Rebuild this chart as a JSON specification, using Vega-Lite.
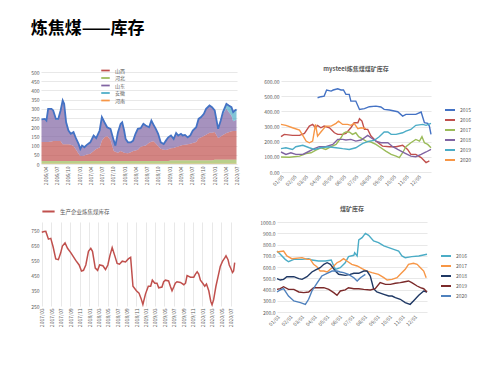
{
"$schema": "https://vega.github.io/schema/vega-lite/v6.json",
"background": "white",
"padding": {"left": 30, "top": 20, "right": 5, "bottom": 5},
"title": {"text": "炼焦煤——库存", "anchor": "start", "fontSize": 17, "fontWeight": "bold", "font": "Noto Sans CJK SC", "color": "#000000", "offset": 28},
"config": {
  "font": "Noto Sans CJK SC",
  "view": {"stroke": null},
  "axis": {"labelFontSize": 5, "labelColor": "#595959", "domain": false, "ticks": false, "grid": false, "labelPadding": 2, "gridColor": "#d9d9d9", "gridWidth": 0.6, "labelOverlap": false},
  "legend": {"labelFontSize": 5, "labelColor": "#595959", "title": null},
  "title": {"fontSize": 6, "color": "#595959", "fontWeight": "bold"}
},
"resolve": {"scale": {"color": "independent"}, "legend": {"color": "independent"}},
"spacing": 17,
"vconcat": [
{"spacing": 22, "resolve": {"scale": {"color": "independent"}, "legend": {"color": "independent"}}, "hconcat": [
{
  "width": 196, "height": 92,
  "data": {"values": [
{"d":"2016-03-01","山西":104,"河北":15,"山东":119,"安徽":3,"河南":1,"t":242},
{"d":"2016-03-28","山西":104,"河北":15,"山东":122,"安徽":3,"河南":1,"t":245},
{"d":"2016-04-10","山西":104,"河北":15,"山东":113,"安徽":3,"河南":1,"t":236},
{"d":"2016-04-24","山西":104,"河北":15,"山东":177,"安徽":3,"河南":1,"t":300},
{"d":"2016-05-21","山西":106,"河北":15,"山东":175,"安徽":3,"河南":1,"t":300},
{"d":"2016-06-04","山西":109,"河北":15,"山东":163,"安徽":3,"河南":1,"t":291},
{"d":"2016-06-26","山西":109,"河北":15,"山东":117,"安徽":3,"河南":1,"t":245},
{"d":"2016-07-15","山西":109,"河北":15,"山东":117,"安徽":3,"河南":1,"t":245},
{"d":"2016-08-03","山西":109,"河北":15,"山东":163,"安徽":3,"河南":1,"t":291},
{"d":"2016-08-20","山西":91,"河北":15,"山东":235,"安徽":3,"河南":1,"t":345},
{"d":"2016-09-01","山西":91,"河北":15,"山东":217,"安徽":3,"河南":1,"t":327},
{"d":"2016-09-17","山西":91,"河北":15,"山东":117,"安徽":3,"河南":1,"t":227},
{"d":"2016-10-06","山西":91,"河北":15,"山东":72,"安徽":3,"河南":1,"t":182},
{"d":"2016-10-25","山西":88,"河北":15,"山东":57,"安徽":3,"河南":1,"t":164},
{"d":"2016-11-16","山西":82,"河北":15,"山东":72,"安徽":3,"河南":1,"t":173},
{"d":"2016-12-08","山西":60,"河北":15,"山东":57,"安徽":3,"河南":1,"t":136},
{"d":"2016-12-27","山西":40,"河北":15,"山东":50,"安徽":3,"河南":1,"t":109},
{"d":"2017-01-10","山西":27,"河北":15,"山东":36,"安徽":3,"河南":1,"t":82},
{"d":"2017-01-24","山西":27,"河北":15,"山东":54,"安徽":3,"河南":1,"t":100},
{"d":"2017-02-12","山西":30,"河北":15,"山东":42,"安徽":3,"河南":1,"t":91},
{"d":"2017-03-04","山西":36,"河北":15,"山东":49,"安徽":3,"河南":1,"t":104},
{"d":"2017-04-01","山西":40,"河北":15,"山东":59,"安徽":3,"河南":1,"t":118},
{"d":"2017-04-28","山西":55,"河北":15,"山东":81,"安徽":3,"河南":1,"t":155},
{"d":"2017-05-19","山西":65,"河北":15,"山东":56,"安徽":3,"河南":1,"t":140},
{"d":"2017-06-16","山西":73,"河北":15,"山东":90,"安徽":3,"河南":1,"t":182},
{"d":"2017-07-04","山西":110,"河北":15,"山东":126,"安徽":3,"河南":1,"t":255},
{"d":"2017-07-25","山西":130,"河北":15,"山东":78,"安徽":3,"河南":1,"t":227},
{"d":"2017-08-16","山西":136,"河北":15,"山东":45,"安徽":3,"河南":1,"t":200},
{"d":"2017-09-12","山西":115,"河北":15,"山东":57,"安徽":3,"河南":1,"t":191},
{"d":"2017-10-09","山西":55,"河北":15,"山东":53,"安徽":3,"河南":1,"t":127},
{"d":"2017-10-22","山西":50,"河北":15,"山东":31,"安徽":3,"河南":1,"t":100},
{"d":"2017-11-12","山西":45,"河北":15,"山东":109,"安徽":3,"河南":1,"t":173},
{"d":"2017-12-03","山西":55,"河北":15,"山东":144,"安徽":3,"河南":1,"t":218},
{"d":"2017-12-16","山西":50,"河北":15,"山东":158,"安徽":3,"河南":1,"t":227},
{"d":"2018-01-01","山西":45,"河北":15,"山东":118,"安徽":3,"河南":1,"t":182},
{"d":"2018-01-13","山西":44,"河北":15,"山东":73,"安徽":3,"河南":1,"t":136},
{"d":"2018-02-01","山西":42,"河北":15,"山东":57,"安徽":3,"河南":1,"t":118},
{"d":"2018-02-24","山西":48,"河北":15,"山东":51,"安徽":3,"河南":1,"t":118},
{"d":"2018-03-15","山西":55,"河北":15,"山东":53,"安徽":3,"河南":1,"t":127},
{"d":"2018-04-03","山西":58,"河北":15,"山东":87,"安徽":3,"河南":1,"t":164},
{"d":"2018-04-22","山西":62,"河北":15,"山东":110,"安徽":3,"河南":1,"t":191},
{"d":"2018-05-15","山西":78,"河北":15,"山东":98,"安徽":3,"河南":1,"t":195},
{"d":"2018-06-06","山西":82,"河北":15,"山东":117,"安徽":3,"河南":1,"t":218},
{"d":"2018-06-25","山西":85,"河北":15,"山东":105,"安徽":3,"河南":1,"t":209},
{"d":"2018-07-22","山西":100,"河北":15,"山东":81,"安徽":3,"河南":1,"t":200},
{"d":"2018-08-10","山西":105,"河北":15,"山东":112,"安徽":3,"河南":1,"t":236},
{"d":"2018-08-28","山西":108,"河北":15,"山东":86,"安徽":3,"河南":1,"t":213},
{"d":"2018-09-15","山西":96,"河北":15,"山东":76,"安徽":3,"河南":1,"t":191},
{"d":"2018-10-04","山西":82,"河北":15,"山东":63,"安徽":3,"河南":1,"t":164},
{"d":"2018-10-25","山西":67,"河北":15,"山东":32,"安徽":3,"河南":1,"t":118},
{"d":"2018-11-18","山西":62,"河北":15,"山东":28,"安徽":3,"河南":1,"t":109},
{"d":"2018-12-06","山西":60,"河北":15,"山东":48,"安徽":3,"河南":1,"t":127},
{"d":"2018-12-25","山西":64,"河北":15,"山东":62,"安徽":3,"河南":1,"t":145},
{"d":"2019-01-16","山西":66,"河北":18,"山东":67,"安徽":3,"河南":1,"t":155},
{"d":"2019-02-07","山西":68,"河北":18,"山东":46,"安徽":3,"河南":1,"t":136},
{"d":"2019-02-27","山西":73,"河北":18,"山东":74,"安徽":3,"河南":1,"t":169},
{"d":"2019-03-16","山西":76,"河北":18,"山东":57,"安徽":3,"河南":1,"t":155},
{"d":"2019-04-07","山西":82,"河北":18,"山东":60,"安徽":3,"河南":1,"t":164},
{"d":"2019-04-21","山西":84,"河北":18,"山东":49,"安徽":3,"河南":1,"t":155},
{"d":"2019-05-10","山西":85,"河北":18,"山东":51,"安徽":3,"河南":1,"t":158},
{"d":"2019-06-01","山西":88,"河北":18,"山东":35,"安徽":3,"河南":1,"t":145},
{"d":"2019-06-22","山西":91,"河北":18,"山东":42,"安徽":3,"河南":1,"t":155},
{"d":"2019-07-12","山西":95,"河北":18,"山东":65,"安徽":3,"河南":1,"t":182},
{"d":"2019-08-09","山西":100,"河北":18,"山东":78,"安徽":3,"河南":1,"t":200},
{"d":"2019-08-28","山西":120,"河北":18,"山东":103,"安徽":3,"河南":1,"t":245},
{"d":"2019-09-18","山西":127,"河北":18,"山东":106,"安徽":3,"河南":1,"t":255},
{"d":"2019-10-10","山西":133,"河北":18,"山东":118,"安徽":3,"河南":1,"t":273},
{"d":"2019-10-28","山西":140,"河北":18,"山东":138,"安徽":3,"河南":1,"t":300},
{"d":"2019-11-25","山西":151,"河北":18,"山东":145,"安徽":3,"河南":1,"t":318},
{"d":"2019-12-15","山西":151,"河北":18,"山东":136,"安徽":3,"河南":1,"t":309},
{"d":"2020-01-06","山西":151,"河北":22,"山东":114,"安徽":3,"河南":1,"t":291},
{"d":"2020-02-03","山西":118,"河北":22,"山东":47,"安徽":3,"河南":1,"t":191},
{"d":"2020-02-24","山西":127,"河北":22,"山东":83,"安徽":3,"河南":1,"t":236},
{"d":"2020-03-13","山西":135,"河北":22,"山东":114,"安徽":10,"河南":1,"t":282},
{"d":"2020-04-10","山西":145,"河北":22,"山东":134,"安徽":25,"河南":1,"t":327},
{"d":"2020-04-29","山西":150,"河北":22,"山东":110,"安徽":35,"河南":1,"t":318},
{"d":"2020-05-21","山西":155,"河北":22,"山东":86,"安徽":45,"河南":1,"t":309},
{"d":"2020-06-04","山西":156,"河北":22,"山东":53,"安徽":50,"河南":1,"t":282},
{"d":"2020-06-18","山西":157,"河北":22,"山东":56,"安徽":55,"河南":1,"t":291},
{"d":"2020-07-01","山西":158,"河北":22,"山东":60,"安徽":55,"河南":1,"t":296}
  ]},
  "layer": [
    {
      "transform": [{"fold": ["山西","河北","山东","安徽","河南"], "as": ["k","v"]}],
      "mark": {"type": "area", "opacity": 0.7},
      "encoding": {
        "x": {"field": "d", "type": "temporal", "title": null,
          "scale": {"domain": ["2016-02-26","2020-07-05"]},
          "axis": {"format": "%Y/%m", "labelAngle": -90, "tickCount": {"interval": "month", "step": 3}}},
        "y": {"field": "v", "type": "quantitative", "stack": "zero", "title": null,
          "scale": {"domain": [0, 500]},
          "axis": {"values": [0,50,100,150,200,250,300,350,400,450,500], "grid": true}},
        "color": {"field": "k", "type": "nominal", "sort": ["山西","河北","山东","安徽","河南"],
          "scale": {"domain": ["山西","河北","山东","安徽","河南"], "range": ["#c0504d","#9bbb59","#8064a2","#4bacc6","#f79646"]},
          "legend": {"orient": "none", "legendX": 61, "legendY": -5, "symbolType": "M-1.7,-0.35H1.7V0.35H-1.7Z", "symbolSize": 25, "rowPadding": 0.5, "labelOffset": 6, "labelFontSize": 5, "symbolOpacity": 1}}
      }
    },
    {
      "mark": {"type": "line", "color": "#4472c4", "strokeWidth": 1.8},
      "encoding": {
        "x": {"field": "d", "type": "temporal", "title": null,
          "axis": {"format": "%Y/%m", "labelAngle": -90, "tickCount": {"interval": "month", "step": 3}}},
        "y": {"field": "t", "type": "quantitative", "title": null,
          "axis": {"values": [0,50,100,150,200,250,300,350,400,450,500], "grid": true}}
      }
    }
  ]
},
{
  "width": 150, "height": 100,
  "title": {"text": "mysteel炼焦煤煤矿库存", "offset": 0},
  "data": {"values": [
{"s":"2015","d":89,"v":490},{"s":"2015","d":97,"v":497},{"s":"2015","d":105,"v":501},{"s":"2015","d":111,"v":541},{"s":"2015","d":122,"v":534},{"s":"2015","d":127,"v":541},{"s":"2015","d":138,"v":549},{"s":"2015","d":146,"v":541},{"s":"2015","d":152,"v":541},{"s":"2015","d":158,"v":512},{"s":"2015","d":166,"v":512},{"s":"2015","d":170,"v":468},{"s":"2015","d":182,"v":468},{"s":"2015","d":191,"v":413},{"s":"2015","d":203,"v":418},{"s":"2015","d":215,"v":431},{"s":"2015","d":231,"v":435},{"s":"2015","d":243,"v":429},{"s":"2015","d":251,"v":413},{"s":"2015","d":264,"v":409},{"s":"2015","d":284,"v":398},{"s":"2015","d":296,"v":369},{"s":"2015","d":304,"v":380},{"s":"2015","d":328,"v":380},{"s":"2015","d":341,"v":396},{"s":"2015","d":349,"v":325},{"s":"2015","d":357,"v":321},{"s":"2015","d":361,"v":303},{"s":"2015","d":365,"v":248},
{"s":"2016","d":0,"v":233},{"s":"2016","d":8,"v":248},{"s":"2016","d":28,"v":242},{"s":"2016","d":45,"v":242},{"s":"2016","d":57,"v":255},{"s":"2016","d":69,"v":303},{"s":"2016","d":77,"v":314},{"s":"2016","d":84,"v":292},{"s":"2016","d":89,"v":308},{"s":"2016","d":97,"v":292},{"s":"2016","d":105,"v":303},{"s":"2016","d":118,"v":292},{"s":"2016","d":130,"v":259},{"s":"2016","d":138,"v":248},{"s":"2016","d":150,"v":248},{"s":"2016","d":158,"v":255},{"s":"2016","d":170,"v":292},{"s":"2016","d":178,"v":325},{"s":"2016","d":187,"v":325},{"s":"2016","d":191,"v":352},{"s":"2016","d":197,"v":336},{"s":"2016","d":203,"v":281},{"s":"2016","d":211,"v":281},{"s":"2016","d":219,"v":237},{"s":"2016","d":231,"v":204},{"s":"2016","d":247,"v":171},{"s":"2016","d":264,"v":167},{"s":"2016","d":280,"v":167},{"s":"2016","d":296,"v":176},{"s":"2016","d":308,"v":149},{"s":"2016","d":316,"v":116},{"s":"2016","d":328,"v":116},{"s":"2016","d":341,"v":95},{"s":"2016","d":353,"v":62},{"s":"2016","d":361,"v":73},
{"s":"2017","d":0,"v":99},{"s":"2017","d":20,"v":97},{"s":"2017","d":45,"v":105},{"s":"2017","d":61,"v":121},{"s":"2017","d":73,"v":127},{"s":"2017","d":85,"v":145},{"s":"2017","d":97,"v":160},{"s":"2017","d":109,"v":149},{"s":"2017","d":122,"v":167},{"s":"2017","d":134,"v":182},{"s":"2017","d":146,"v":226},{"s":"2017","d":152,"v":255},{"s":"2017","d":158,"v":264},{"s":"2017","d":166,"v":264},{"s":"2017","d":174,"v":248},{"s":"2017","d":182,"v":259},{"s":"2017","d":189,"v":233},{"s":"2017","d":197,"v":220},{"s":"2017","d":207,"v":204},{"s":"2017","d":219,"v":198},{"s":"2017","d":231,"v":182},{"s":"2017","d":243,"v":160},{"s":"2017","d":255,"v":138},{"s":"2017","d":268,"v":116},{"s":"2017","d":280,"v":105},{"s":"2017","d":288,"v":95},{"s":"2017","d":296,"v":127},{"s":"2017","d":304,"v":167},{"s":"2017","d":316,"v":193},{"s":"2017","d":328,"v":215},{"s":"2017","d":337,"v":204},{"s":"2017","d":343,"v":233},{"s":"2017","d":349,"v":193},{"s":"2017","d":357,"v":182},{"s":"2017","d":365,"v":160},
{"s":"2018","d":0,"v":132},{"s":"2018","d":12,"v":116},{"s":"2018","d":24,"v":127},{"s":"2018","d":36,"v":116},{"s":"2018","d":53,"v":116},{"s":"2018","d":65,"v":132},{"s":"2018","d":81,"v":154},{"s":"2018","d":93,"v":167},{"s":"2018","d":109,"v":167},{"s":"2018","d":126,"v":182},{"s":"2018","d":138,"v":215},{"s":"2018","d":150,"v":215},{"s":"2018","d":158,"v":211},{"s":"2018","d":170,"v":215},{"s":"2018","d":182,"v":204},{"s":"2018","d":195,"v":211},{"s":"2018","d":211,"v":242},{"s":"2018","d":219,"v":226},{"s":"2018","d":231,"v":204},{"s":"2018","d":243,"v":193},{"s":"2018","d":260,"v":193},{"s":"2018","d":272,"v":167},{"s":"2018","d":284,"v":149},{"s":"2018","d":300,"v":127},{"s":"2018","d":316,"v":105},{"s":"2018","d":328,"v":101},{"s":"2018","d":341,"v":116},{"s":"2018","d":353,"v":132},{"s":"2018","d":365,"v":149},
{"s":"2019","d":0,"v":154},{"s":"2019","d":12,"v":160},{"s":"2019","d":28,"v":149},{"s":"2019","d":36,"v":167},{"s":"2019","d":53,"v":176},{"s":"2019","d":69,"v":160},{"s":"2019","d":81,"v":149},{"s":"2019","d":97,"v":160},{"s":"2019","d":114,"v":167},{"s":"2019","d":134,"v":160},{"s":"2019","d":150,"v":154},{"s":"2019","d":166,"v":149},{"s":"2019","d":182,"v":160},{"s":"2019","d":199,"v":189},{"s":"2019","d":215,"v":204},{"s":"2019","d":227,"v":209},{"s":"2019","d":239,"v":233},{"s":"2019","d":251,"v":264},{"s":"2019","d":260,"v":264},{"s":"2019","d":268,"v":248},{"s":"2019","d":280,"v":248},{"s":"2019","d":296,"v":259},{"s":"2019","d":304,"v":270},{"s":"2019","d":316,"v":281},{"s":"2019","d":328,"v":308},{"s":"2019","d":345,"v":314},{"s":"2019","d":353,"v":308},{"s":"2019","d":365,"v":321},
{"s":"2020","d":0,"v":314},{"s":"2020","d":12,"v":308},{"s":"2020","d":28,"v":292},{"s":"2020","d":45,"v":277},{"s":"2020","d":53,"v":242},{"s":"2020","d":61,"v":204},{"s":"2020","d":69,"v":193},{"s":"2020","d":77,"v":204},{"s":"2020","d":84,"v":314},{"s":"2020","d":89,"v":237},{"s":"2020","d":97,"v":264},{"s":"2020","d":109,"v":303},{"s":"2020","d":122,"v":303},{"s":"2020","d":134,"v":321},{"s":"2020","d":140,"v":336},{"s":"2020","d":150,"v":314},{"s":"2020","d":162,"v":314},{"s":"2020","d":170,"v":308},{"s":"2020","d":178,"v":321},{"s":"2020","d":187,"v":286},{"s":"2020","d":195,"v":292},{"s":"2020","d":207,"v":286}
  ]},
  "mark": {"type": "line", "strokeWidth": 1.4},
  "encoding": {
    "x": {"field": "d", "type": "quantitative", "title": null,
      "scale": {"domain": [0, 365], "nice": false},
      "axis": {"values": [0,31,59,90,120,151,181,212,243,273,304,334], "labelExpr": "timeFormat(datetime(2001,0,5+datum.value),'%m/%d')", "labelAngle": -45}},
    "y": {"field": "v", "type": "quantitative", "title": null,
      "scale": {"domain": [0, 660], "nice": false},
      "axis": {"values": [0,100,200,300,400,500,600], "format": ".2f", "grid": true}},
    "color": {"field": "s", "type": "nominal",
      "scale": {"domain": ["2015","2016","2017","2018","2019","2020"], "range": ["#4472c4","#c0504d","#9bbb59","#8064a2","#4bacc6","#f79646"]},
      "legend": {"orient": "none", "legendX": 163, "legendY": 32, "symbolType": "stroke", "symbolSize": 100, "symbolStrokeWidth": 2, "rowPadding": 0, "labelFontSize": 5}}
  }
}
]},
{"spacing": 21, "resolve": {"scale": {"color": "independent"}, "legend": {"color": "independent"}}, "hconcat": [
{
  "width": 194, "height": 84,
  "data": {"values": [
{"d":"2017-03-01","v":735},{"d":"2017-03-16","v":740},{"d":"2017-03-27","v":741},{"d":"2017-04-13","v":690},{"d":"2017-04-28","v":695},{"d":"2017-05-13","v":640},{"d":"2017-05-30","v":560},{"d":"2017-06-16","v":555},{"d":"2017-07-01","v":600},{"d":"2017-07-12","v":645},{"d":"2017-07-29","v":665},{"d":"2017-08-14","v":630},{"d":"2017-09-05","v":600},{"d":"2017-10-06","v":550},{"d":"2017-10-28","v":520},{"d":"2017-11-12","v":480},{"d":"2017-11-25","v":485},{"d":"2017-12-10","v":520},{"d":"2017-12-27","v":610},{"d":"2018-01-11","v":630},{"d":"2018-01-22","v":610},{"d":"2018-02-09","v":500},{"d":"2018-02-24","v":485},{"d":"2018-03-09","v":520},{"d":"2018-03-30","v":515},{"d":"2018-04-16","v":490},{"d":"2018-05-01","v":520},{"d":"2018-05-14","v":580},{"d":"2018-05-29","v":635},{"d":"2018-06-15","v":580},{"d":"2018-06-30","v":530},{"d":"2018-07-15","v":525},{"d":"2018-08-02","v":545},{"d":"2018-08-23","v":540},{"d":"2018-09-10","v":560},{"d":"2018-09-25","v":570},{"d":"2018-10-10","v":380},{"d":"2018-11-01","v":350},{"d":"2018-11-18","v":335},{"d":"2018-12-01","v":300},{"d":"2018-12-13","v":260},{"d":"2018-12-30","v":330},{"d":"2019-01-17","v":380},{"d":"2019-02-01","v":380},{"d":"2019-02-12","v":420},{"d":"2019-02-28","v":400},{"d":"2019-03-14","v":400},{"d":"2019-03-25","v":370},{"d":"2019-04-15","v":375},{"d":"2019-04-26","v":410},{"d":"2019-05-07","v":420},{"d":"2019-05-28","v":415},{"d":"2019-06-08","v":380},{"d":"2019-06-19","v":350},{"d":"2019-06-30","v":375},{"d":"2019-07-10","v":400},{"d":"2019-07-21","v":410},{"d":"2019-08-12","v":405},{"d":"2019-09-03","v":390},{"d":"2019-09-14","v":400},{"d":"2019-09-24","v":450},{"d":"2019-10-16","v":440},{"d":"2019-11-06","v":440},{"d":"2019-11-17","v":460},{"d":"2019-11-28","v":475},{"d":"2019-12-08","v":460},{"d":"2019-12-19","v":420},{"d":"2020-01-03","v":400},{"d":"2020-01-16","v":380},{"d":"2020-01-27","v":395},{"d":"2020-02-11","v":350},{"d":"2020-02-24","v":280},{"d":"2020-03-03","v":258},{"d":"2020-03-13","v":290},{"d":"2020-03-28","v":380},{"d":"2020-04-10","v":440},{"d":"2020-04-25","v":510},{"d":"2020-05-10","v":545},{"d":"2020-05-23","v":565},{"d":"2020-06-01","v":580},{"d":"2020-06-14","v":555},{"d":"2020-06-22","v":520},{"d":"2020-07-03","v":495},{"d":"2020-07-13","v":470},{"d":"2020-07-20","v":480},{"d":"2020-07-27","v":535}
  ]},
  "mark": {"type": "line", "strokeWidth": 1.5},
  "encoding": {
    "x": {"field": "d", "type": "temporal", "title": null,
      "scale": {"domain": ["2017-02-24","2020-07-29"]},
      "axis": {"format": "%Y/%m", "labelAngle": -90, "grid": true, "tickCount": {"interval": "month", "step": 2}}},
    "y": {"field": "v", "type": "quantitative", "title": null,
      "scale": {"domain": [250, 803], "nice": false},
      "axis": {"values": [250,350,450,550,650,750]}},
    "color": {"datum": "生产企业炼焦煤库存", "type": "nominal",
      "scale": {"range": ["#c0504d"]},
      "legend": {"orient": "top", "offset": 6, "symbolType": "stroke", "symbolSize": 150, "symbolStrokeWidth": 2, "labelFontSize": 5.5}}
  }
},
{
  "width": 150, "height": 90,
  "title": {"text": "煤矿库存", "offset": 8},
  "data": {"values": [
{"s":"2016","d":0,"v":742},{"s":"2016","d":8,"v":713},{"s":"2016","d":20,"v":668},{"s":"2016","d":28,"v":647},{"s":"2016","d":41,"v":668},{"s":"2016","d":61,"v":668},{"s":"2016","d":77,"v":674},{"s":"2016","d":85,"v":662},{"s":"2016","d":101,"v":653},{"s":"2016","d":118,"v":653},{"s":"2016","d":132,"v":662},{"s":"2016","d":138,"v":609},{"s":"2016","d":142,"v":579},{"s":"2016","d":154,"v":594},{"s":"2016","d":166,"v":638},{"s":"2016","d":174,"v":692},{"s":"2016","d":187,"v":704},{"s":"2016","d":189,"v":727},{"s":"2016","d":195,"v":698},{"s":"2016","d":199,"v":840},{"s":"2016","d":207,"v":861},{"s":"2016","d":215,"v":899},{"s":"2016","d":223,"v":882},{"s":"2016","d":235,"v":831},{"s":"2016","d":247,"v":816},{"s":"2016","d":260,"v":787},{"s":"2016","d":272,"v":772},{"s":"2016","d":284,"v":757},{"s":"2016","d":296,"v":742},{"s":"2016","d":304,"v":698},{"s":"2016","d":312,"v":683},{"s":"2016","d":328,"v":692},{"s":"2016","d":345,"v":698},{"s":"2016","d":365,"v":713},
{"s":"2017","d":0,"v":733},{"s":"2017","d":16,"v":742},{"s":"2017","d":24,"v":698},{"s":"2017","d":36,"v":674},{"s":"2017","d":61,"v":683},{"s":"2017","d":73,"v":668},{"s":"2017","d":81,"v":668},{"s":"2017","d":89,"v":624},{"s":"2017","d":97,"v":603},{"s":"2017","d":105,"v":564},{"s":"2017","d":114,"v":564},{"s":"2017","d":122,"v":556},{"s":"2017","d":134,"v":594},{"s":"2017","d":146,"v":638},{"s":"2017","d":154,"v":653},{"s":"2017","d":162,"v":674},{"s":"2017","d":170,"v":653},{"s":"2017","d":182,"v":624},{"s":"2017","d":195,"v":609},{"s":"2017","d":207,"v":585},{"s":"2017","d":219,"v":564},{"s":"2017","d":231,"v":550},{"s":"2017","d":247,"v":535},{"s":"2017","d":260,"v":505},{"s":"2017","d":268,"v":484},{"s":"2017","d":280,"v":490},{"s":"2017","d":292,"v":505},{"s":"2017","d":300,"v":535},{"s":"2017","d":312,"v":579},{"s":"2017","d":320,"v":624},{"s":"2017","d":332,"v":633},{"s":"2017","d":341,"v":624},{"s":"2017","d":349,"v":594},{"s":"2017","d":357,"v":564},{"s":"2017","d":363,"v":505},
{"s":"2018","d":0,"v":496},{"s":"2018","d":8,"v":484},{"s":"2018","d":16,"v":490},{"s":"2018","d":24,"v":514},{"s":"2018","d":41,"v":514},{"s":"2018","d":53,"v":496},{"s":"2018","d":61,"v":490},{"s":"2018","d":73,"v":514},{"s":"2018","d":85,"v":556},{"s":"2018","d":93,"v":573},{"s":"2018","d":105,"v":594},{"s":"2018","d":114,"v":624},{"s":"2018","d":122,"v":638},{"s":"2018","d":130,"v":624},{"s":"2018","d":142,"v":564},{"s":"2018","d":150,"v":535},{"s":"2018","d":166,"v":526},{"s":"2018","d":178,"v":535},{"s":"2018","d":187,"v":544},{"s":"2018","d":199,"v":544},{"s":"2018","d":211,"v":564},{"s":"2018","d":219,"v":564},{"s":"2018","d":227,"v":520},{"s":"2018","d":235,"v":407},{"s":"2018","d":243,"v":378},{"s":"2018","d":260,"v":357},{"s":"2018","d":272,"v":342},{"s":"2018","d":280,"v":342},{"s":"2018","d":288,"v":327},{"s":"2018","d":300,"v":313},{"s":"2018","d":312,"v":283},{"s":"2018","d":324,"v":268},{"s":"2018","d":332,"v":298},{"s":"2018","d":345,"v":348},{"s":"2018","d":357,"v":387},{"s":"2018","d":365,"v":378},
{"s":"2019","d":0,"v":401},{"s":"2019","d":8,"v":407},{"s":"2019","d":16,"v":425},{"s":"2019","d":28,"v":401},{"s":"2019","d":41,"v":401},{"s":"2019","d":53,"v":378},{"s":"2019","d":65,"v":372},{"s":"2019","d":77,"v":378},{"s":"2019","d":89,"v":416},{"s":"2019","d":101,"v":416},{"s":"2019","d":114,"v":416},{"s":"2019","d":126,"v":401},{"s":"2019","d":138,"v":372},{"s":"2019","d":146,"v":348},{"s":"2019","d":154,"v":387},{"s":"2019","d":166,"v":396},{"s":"2019","d":174,"v":416},{"s":"2019","d":187,"v":407},{"s":"2019","d":199,"v":407},{"s":"2019","d":211,"v":401},{"s":"2019","d":227,"v":396},{"s":"2019","d":239,"v":407},{"s":"2019","d":251,"v":461},{"s":"2019","d":264,"v":446},{"s":"2019","d":276,"v":446},{"s":"2019","d":288,"v":455},{"s":"2019","d":300,"v":461},{"s":"2019","d":308,"v":467},{"s":"2019","d":320,"v":476},{"s":"2019","d":328,"v":461},{"s":"2019","d":341,"v":431},{"s":"2019","d":349,"v":416},{"s":"2019","d":357,"v":407},{"s":"2019","d":365,"v":378},
{"s":"2020","d":0,"v":378},{"s":"2020","d":8,"v":396},{"s":"2020","d":16,"v":407},{"s":"2020","d":28,"v":342},{"s":"2020","d":41,"v":298},{"s":"2020","d":57,"v":283},{"s":"2020","d":69,"v":268},{"s":"2020","d":77,"v":313},{"s":"2020","d":85,"v":387},{"s":"2020","d":97,"v":455},{"s":"2020","d":109,"v":520},{"s":"2020","d":122,"v":544},{"s":"2020","d":134,"v":564},{"s":"2020","d":146,"v":564},{"s":"2020","d":154,"v":556},{"s":"2020","d":162,"v":550},{"s":"2020","d":174,"v":535},{"s":"2020","d":187,"v":505},{"s":"2020","d":195,"v":476},{"s":"2020","d":203,"v":505},{"s":"2020","d":215,"v":535}
  ]},
  "mark": {"type": "line", "strokeWidth": 1.4},
  "encoding": {
    "x": {"field": "d", "type": "quantitative", "title": null,
      "scale": {"domain": [0, 365], "nice": false},
      "axis": {"values": [0,31,59,90,120,151,181,212,243,273,304,334], "labelExpr": "timeFormat(datetime(2001,0,1+datum.value),'%m/%d')", "labelAngle": -45}},
    "y": {"field": "v", "type": "quantitative", "title": null,
      "scale": {"domain": [200, 1000]},
      "axis": {"values": [200,300,400,500,600,700,800,900,1000], "format": ".1f", "grid": true}},
    "color": {"field": "s", "type": "nominal",
      "scale": {"domain": ["2016","2017","2018","2019","2020"], "range": ["#4bacc6","#f79646","#1f3864","#7b2a2a","#4f81bd"]},
      "legend": {"orient": "none", "legendX": 163, "legendY": 28, "symbolType": "stroke", "symbolSize": 100, "symbolStrokeWidth": 2, "rowPadding": 0, "labelFontSize": 5}}
  }
}
]}
]
}
